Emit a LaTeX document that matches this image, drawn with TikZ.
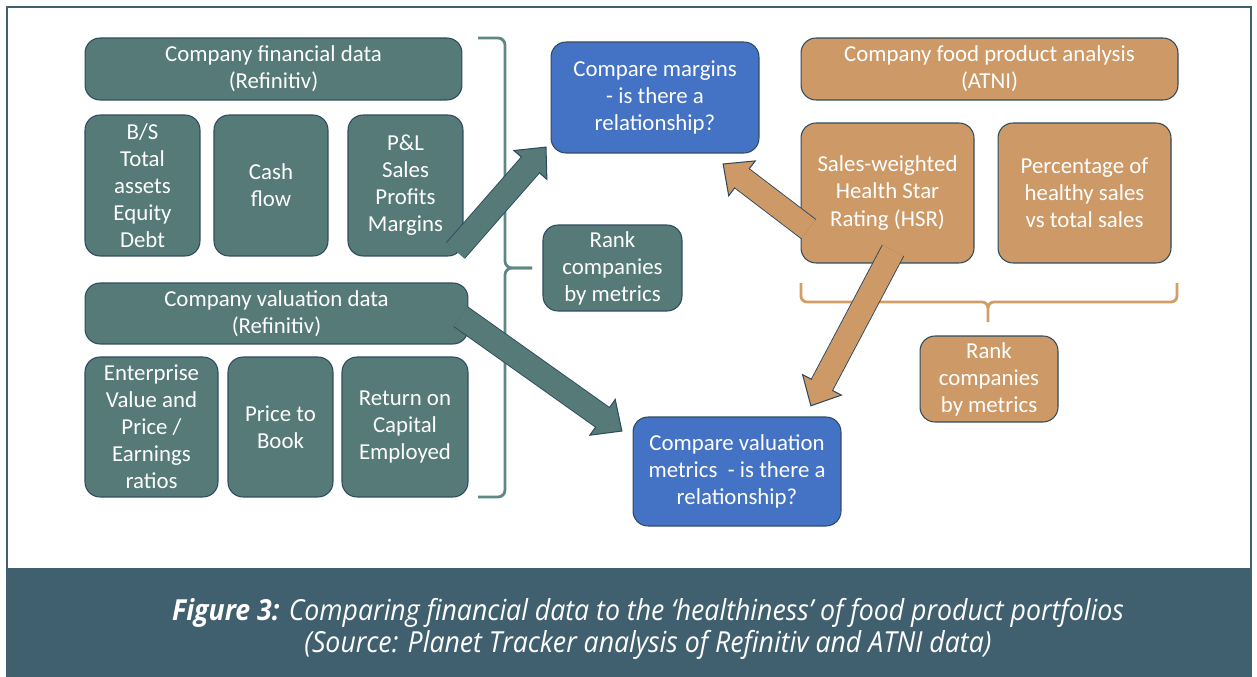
\documentclass[tikz,border=0pt]{standalone}
\usepackage{fontspec}
\setmainfont{Carlito}
\newfontfamily\capfont[FakeStretch=0.92]{Open Sans}
\usepackage{tikz}
\usetikzlibrary{arrows.meta,calc}
\definecolor{tealbox}{HTML}{557A78}
\definecolor{bluebox}{HTML}{4472C4}
\definecolor{orangebox}{HTML}{CD9966}
\definecolor{edgeline}{HTML}{2F4B5F}
\definecolor{capband}{HTML}{41606F}
\definecolor{tealbrace}{HTML}{5E8885}
\definecolor{orangebrace}{HTML}{D29E68}

\begin{document}
\begin{tikzpicture}[x=0.02cm, y=-0.02cm, box/.style={rounded corners=0.3cm, draw=edgeline, line width=0.6pt, text=white, align=center, inner sep=0pt, font=\fontsize{13}{15.4}\selectfont}, teal node/.style={box, fill=tealbox}, blue node/.style={box, fill=bluebox}, orange node/.style={box, fill=orangebox}, big arrow/.style={line width=13pt, draw=#1, -{Triangle[width=0.92cm,length=0.5cm,fill=#1,color=edgeline,line width=0.6pt]}, preaction={draw=edgeline, line width=14.2pt, arrows=-, shorten >=0.3cm}, postaction={draw=#1, line width=13pt, arrows=-, shorten >=0.44cm}}, brace/.style={line width=1.6pt, draw=#1}]
\useasboundingbox (0,0) rectangle (1257,676);
\fill[capband] (6,568) rectangle (1252,676);
\draw[capband, line width=1.2pt] (7,7) rectangle (1251,676);

\node[teal node, minimum width=7.54cm, minimum height=1.24cm] (fin) at (273.5,69) {Company financial data\\(Refinitiv)};
\node[teal node, minimum width=2.3cm, minimum height=2.82cm] (bs) at (142.5,185.5) {B/S\\Total\\assets\\Equity\\Debt};
\node[teal node, minimum width=2.28cm, minimum height=2.82cm] (cf) at (271,185.5) {Cash\\flow};
\node[teal node, minimum width=2.3cm, minimum height=2.82cm] (pl) at (405.5,185.5) {P\&L\\Sales\\Profits\\Margins};
\node[teal node, minimum width=7.66cm, minimum height=1.22cm] (val) at (276.5,313.5) {Company valuation data\\(Refinitiv)};
\node[teal node, minimum width=2.66cm, minimum height=2.8cm] (ev) at (151.5,427) {Enterprise\\Value and\\Price /\\Earnings\\ratios};
\node[teal node, minimum width=2.1cm, minimum height=2.8cm] (ptb) at (280.5,427) {Price to\\Book};
\node[teal node, minimum width=2.52cm, minimum height=2.8cm] (roce) at (405,427) {Return on\\Capital\\Employed};
\node[blue node, minimum width=4.16cm, minimum height=2.22cm] (mar) at (655,97.5) {Compare margins\\- is there a\\relationship?};
\node[teal node, minimum width=2.78cm, minimum height=1.72cm] (rank1) at (612.5,268) {Rank\\companies\\by metrics};
\node[blue node, minimum width=4.16cm, minimum height=2.18cm] (vcmp) at (737,471.5) {Compare valuation\\metrics~ - is there a\\relationship?};
\node[orange node, minimum width=7.54cm, minimum height=1.24cm] (food) at (989.5,69) {Company food product analysis\\(ATNI)};
\node[orange node, minimum width=3.46cm, minimum height=2.8cm] (hsr) at (887.5,193) {Sales-weighted\\Health Star\\Rating (HSR)};
\node[orange node, minimum width=3.46cm, minimum height=2.8cm] (pct) at (1084.5,193) {Percentage of\\healthy sales\\vs total sales};
\node[orange node, minimum width=2.76cm, minimum height=1.72cm] (rank2) at (989,379) {Rank\\companies\\by metrics};

\draw[brace=tealbrace] (478,38) -- (498,38) to[out=0,in=90] (505,45) -- (505,261) to[out=-90,in=180] (512,268) -- (532,268);
\draw[brace=tealbrace] (532,268) -- (512,268) to[out=180,in=90] (505,275) -- (505,490) to[out=-90,in=0] (498,497) -- (478,497);
\draw[brace=orangebrace] (801,283) -- (801,296) to[out=-90,in=180] (807,302) -- (982,302) to[out=0,in=90] (988,308) -- (988,322);
\draw[brace=orangebrace] (1177,283) -- (1177,296) to[out=-90,in=0] (1171,302) -- (994,302) to[out=180,in=90] (988,308);

\path
($(pl.south east)+(-8,-6)$) edge[big arrow=tealbox] ($(mar.south west)+(-4,-7)$)
($(val.east)+(-8,3)$) edge[big arrow=tealbox] ($(vcmp.north west)+(-10,15)$)
($(hsr.west)+(8,36)$) edge[big arrow=orangebox] ($(mar.south east)+(-37,10)$)
($(hsr.south)+(5.5,-13)$) edge[big arrow=orangebox] ($(vcmp.north east)+(-31,-10)$);

\node[text=white, font=\capfont\itshape\fontsize{16.5}{18}\selectfont, align=center] (cap) at (648,629) {{\bfseries Figure 3:} Comparing financial data to the ‘healthiness’ of food product portfolios\\(Source: Planet Tracker analysis of Refinitiv and ATNI data)};
\end{tikzpicture}
\end{document}
